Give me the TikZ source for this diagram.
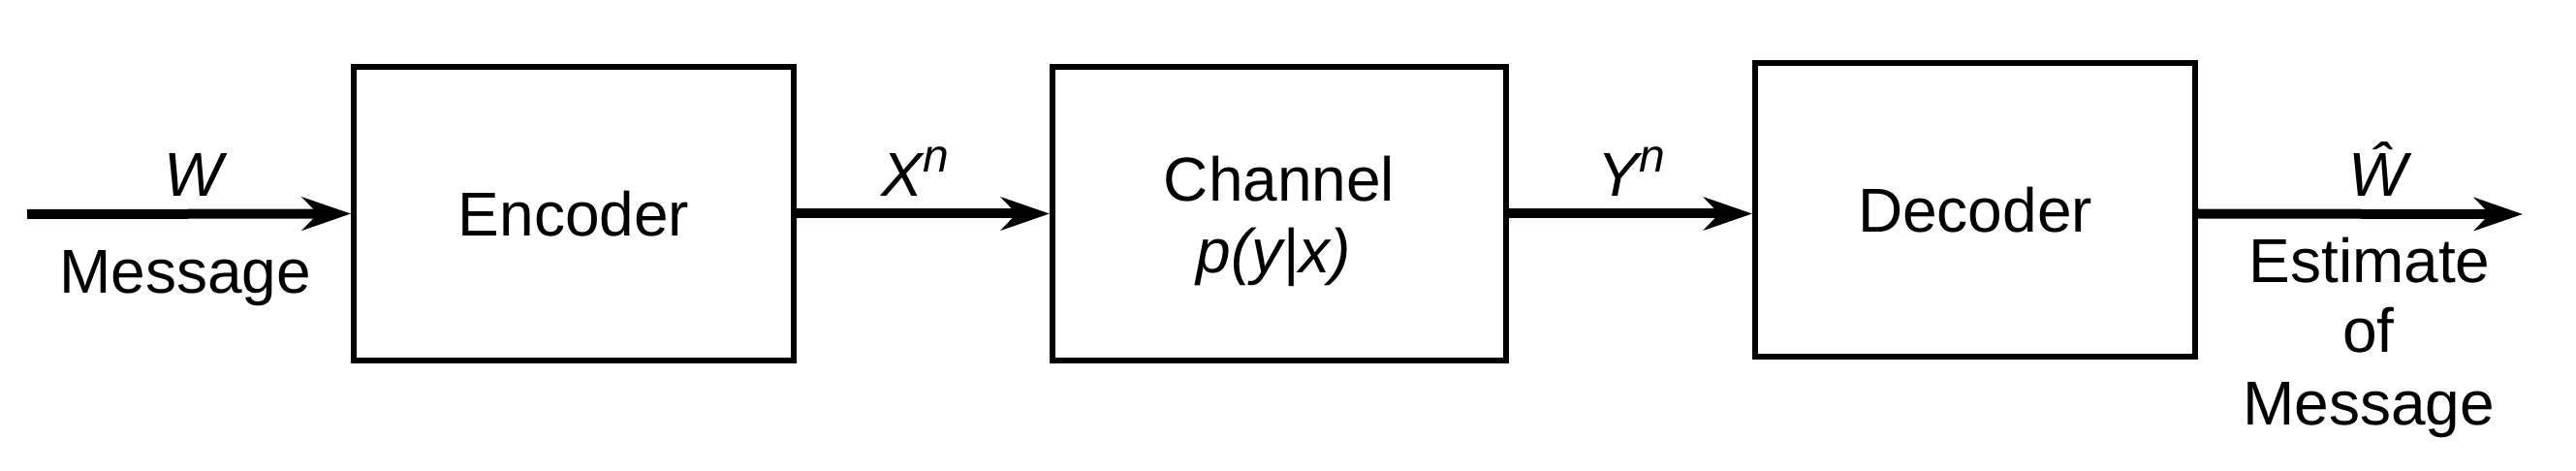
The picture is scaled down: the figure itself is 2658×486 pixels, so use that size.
\documentclass[tikz,border=0pt]{standalone}
\usepackage{fontspec}
\setmainfont{Liberation Sans}
\usetikzlibrary{arrows.meta}
\begin{document}
\begin{tikzpicture}[x=1pt,y=-1pt,
  font=\fontsize{64}{73}\selectfont,
  blk/.style={draw, line width=6pt, minimum width=454pt, minimum height=303pt, inner sep=0pt},
  conn/.style={line width=10pt, -{Stealth[length=50pt,width=34pt,inset=16pt]}},
  lbl/.style={inner sep=0pt, anchor=base}]
\useasboundingbox (0,0) rectangle (2658,486);
% blocks
\node[blk] (enc) at (592,220.5) {Encoder};
\node[blk, minimum width=468pt] (ch) at (1320,220.5) {};
\node[blk] (dec) at (2038,216.5) {Decoder};
\node[lbl] (chA) at (1320,208) {Channel};
\node[lbl] (chB) at (1314,282) {\itshape p(y|x)};
% end points
\coordinate (src) at (28,221);
\coordinate (snk) at (2603,221);
% connectors
\draw[conn] (src) -- (enc.west);
\draw[conn] (enc.east) -- (ch.west);
\draw[conn] (ch.east) -- (ch.east -| dec.west);
\draw[conn] (ch.east -| dec.east) -- (snk);
% labels
\node[lbl] (lw) at (200,203) {\itshape W};
\node[lbl] (lmsg) at (191,303) {Message};
\node[lbl] (lx) at (944,203) {\itshape X\raisebox{25pt}{\fontsize{48}{48}\selectfont n}};
\node[lbl] (ly) at (1683,203) {\itshape Y\raisebox{25pt}{\fontsize{48}{48}\selectfont n}};
\node[lbl] (lwh) at (2454,203) {\itshape Ŵ};
\node[lbl] (le1) at (2445,292) {Estimate};
\node[lbl] (le2) at (2444,363) {of};
\node[lbl] (le3) at (2444,438) {Message};
\end{tikzpicture}
\end{document}
